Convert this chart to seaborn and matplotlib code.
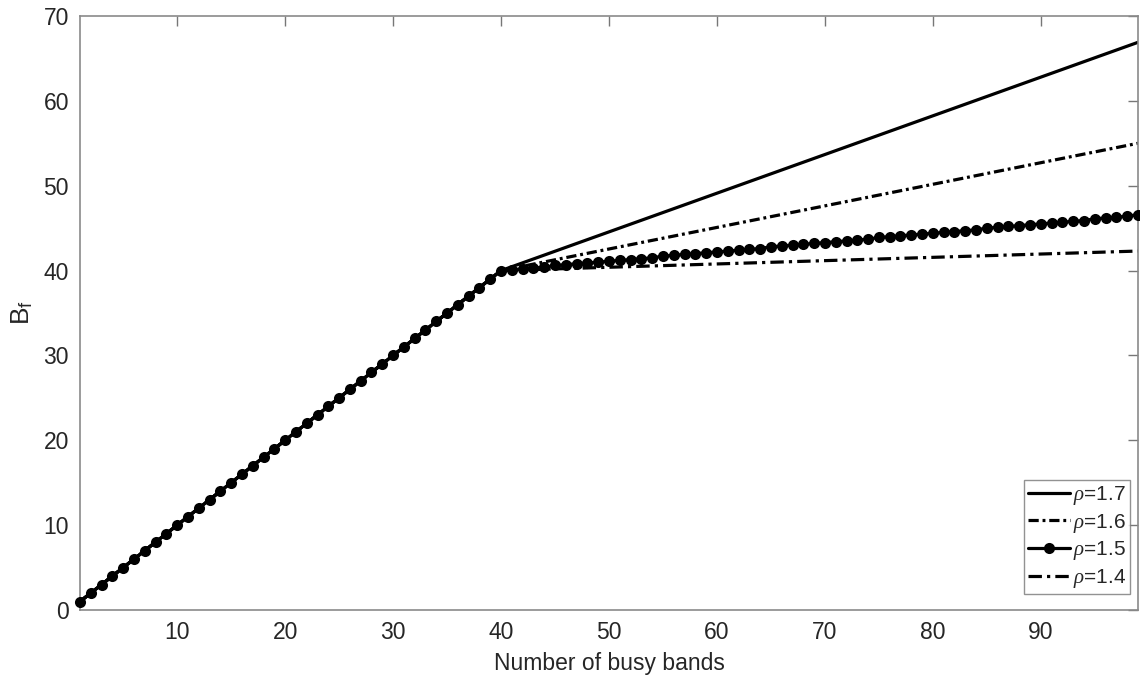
import numpy as np
import pandas as pd
import matplotlib
matplotlib.use("Agg")
import matplotlib.pyplot as plt
import seaborn as sns

# ---- data ----
bands = list(range(1, 100))
ramp = list(range(1, 41))  # B_f = number of busy bands up to 40

knots_x = [1, 40, 99]
rho17 = [1, 40, 66.9]
rho16 = [1, 40, 55.0]
rho14 = [1, 40, 42.3]
rho15_tail = [40.1, 40.2, 40.3, 40.4, 40.6, 40.7, 40.8, 40.9, 41.0, 41.1,
              41.2, 41.3, 41.4, 41.5, 41.7, 41.8, 41.9, 42.0, 42.1, 42.2,
              42.3, 42.4, 42.5, 42.6, 42.8, 42.9, 43.0, 43.1, 43.2, 43.3,
              43.4, 43.5, 43.6, 43.7, 43.9, 44.0, 44.1, 44.2, 44.3, 44.4,
              44.5, 44.6, 44.7, 44.8, 45.0, 45.1, 45.2, 45.3, 45.4, 45.5,
              45.6, 45.7, 45.8, 45.9, 46.1, 46.2, 46.3, 46.4, 46.6]
rho15 = ramp + rho15_tail

labels = [r"$\rho$=1.7", r"$\rho$=1.6", r"$\rho$=1.5", r"$\rho$=1.4"]
xticks = [10, 20, 30, 40, 50, 60, 70, 80, 90]
yticks = [0, 10, 20, 30, 40, 50, 60, 70]

sns.set_style("white")
plt.rcParams['font.family'] = ['Liberation Sans', 'DejaVu Sans']
plt.rcParams['mathtext.fontset'] = 'custom'
plt.rcParams['mathtext.it'] = 'Liberation Serif:italic'
plt.rcParams['mathtext.rm'] = 'Liberation Sans'

fig = plt.figure(figsize=(11.4, 6.9), dpi=100)
ax = fig.add_axes([80 / 1140, 80 / 690, (1138 - 80) / 1140, (610 - 16) / 690])

lw = 2.3
d17 = pd.DataFrame({"x": knots_x, "y": rho17})
d16 = pd.DataFrame({"x": knots_x, "y": rho16})
d15 = pd.DataFrame({"x": bands, "y": rho15})
d14 = pd.DataFrame({"x": knots_x, "y": rho14})

sns.lineplot(data=d17, x="x", y="y", ax=ax, color="black", lw=lw, label=labels[0])
sns.lineplot(data=d16, x="x", y="y", ax=ax, color="black", lw=lw, label=labels[1])
ax.lines[-1].set_dashes((3.2, 1.2, 0.9, 1.2))
sns.lineplot(data=d15, x="x", y="y", ax=ax, color="black", lw=lw, label=labels[2],
             marker="o", markersize=8, markeredgewidth=0, clip_on=False, zorder=5)
sns.lineplot(data=d14, x="x", y="y", ax=ax, color="black", lw=lw, label=labels[3])
ax.lines[-1].set_dashes((4.2, 1.6, 1.0, 1.6))

ax.set_xlim(1, 99)
ax.set_ylim(0, 70)
ax.set_xticks(xticks)
ax.set_yticks(yticks)
ax.tick_params(axis="both", which="both", direction="in", length=7, width=1,
               color="#777777", labelsize=16.5, labelcolor="#262626",
               top=True, right=True, pad=8)
for s in ax.spines.values():
    s.set_visible(True)
    s.set_color("#8a8a8a")
    s.set_linewidth(1.2)

ax.set_xlabel("Number of busy bands", fontsize=16.5, color="#262626", labelpad=6)
ax.set_ylabel(r"B$_\mathregular{f}$", fontsize=19, color="#262626", labelpad=6)

leg = ax.legend(loc="lower right", bbox_to_anchor=(0.9925, 0.027), fontsize=15,
                frameon=True, fancybox=False, edgecolor="#777777",
                handlelength=2.0, handletextpad=0.15, borderpad=0.2,
                labelspacing=0.22, borderaxespad=0)
leg.get_frame().set_linewidth(1.0)

fig.savefig("out.png", dpi=100)
